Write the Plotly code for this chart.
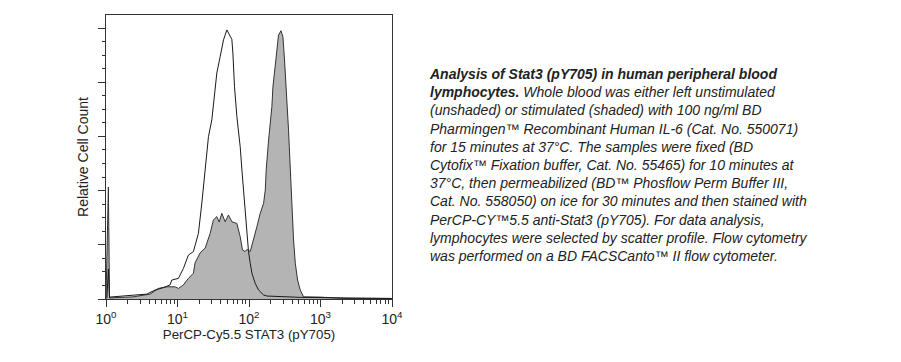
import plotly.graph_objects as go

# Unstimulated (unshaded) histogram: PerCP-Cy5.5 intensity vs relative count
unstim_x = [1.03, 1.08, 1.12, 1.57, 2.39, 3.71, 4.86, 6.35, 7.87, 8.32, 10.3, 12.1, 14.2,
            16.7, 19.6, 21.9, 23.1, 25.2, 27.1, 30.2, 31.8, 33.6, 35.5, 39.5, 44.0, 49.0,
            53.3, 57.6, 59.5, 62.7, 67.7, 71.3, 75.3, 79.6, 83.8, 88.5, 93.5, 98.4, 104,
            109.9, 122, 136, 160, 178, 521, 1892, 9800]
unstim_y = [0.004, 0.111, 0.007, 0.011, 0.014, 0.018, 0.033, 0.042, 0.052, 0.070, 0.076,
            0.113, 0.162, 0.175, 0.242, 0.354, 0.414, 0.513, 0.599, 0.661, 0.710, 0.783,
            0.834, 0.894, 0.956, 0.993, 0.974, 0.958, 0.908, 0.783, 0.673, 0.624, 0.562,
            0.476, 0.402, 0.328, 0.255, 0.175, 0.132, 0.095, 0.058, 0.033, 0.015, 0.011,
            0.006, 0.004, 0.002]

# Stimulated (shaded) histogram
stim_x = [1.0, 1.08, 1.12, 2.39, 4.13, 5.40, 7.08, 9.26, 10.3, 12.1, 14.2, 16.7, 17.6,
          20.7, 24.4, 28.6, 31.8, 35.5, 38.3, 41.7, 46.4, 51.6, 57.6, 67.6, 75.3, 81.1,
          88.5, 93.5, 104, 115.7, 129, 143.5, 160, 169, 174, 188, 203, 209, 216, 228, 240,
          259, 280, 298, 314, 332, 351, 357, 366, 378, 390, 399, 407, 420, 444, 478, 521,
          580, 993, 1702, 2200, 10000]
stim_y = [0.0, 0.413, 0.004, 0.008, 0.018, 0.039, 0.045, 0.045, 0.039, 0.052, 0.076,
          0.095, 0.133, 0.170, 0.188, 0.242, 0.292, 0.304, 0.284, 0.316, 0.285, 0.310,
          0.285, 0.279, 0.230, 0.181, 0.175, 0.183, 0.175, 0.218, 0.267, 0.316, 0.353,
          0.402, 0.476, 0.587, 0.661, 0.710, 0.783, 0.845, 0.907, 0.974, 0.990, 0.968,
          0.882, 0.783, 0.685, 0.624, 0.562, 0.476, 0.377, 0.292, 0.255, 0.218, 0.132,
          0.070, 0.033, 0.008, 0.007, 0.005, 0.002, 0.002]

x_tickvals = [1, 10, 100, 1000, 10000]
x_ticktext = ["10<sup>0</sup>", "10<sup>1</sup>", "10<sup>2</sup>", "10<sup>3</sup>", "10<sup>4</sup>"]

caption = ("<b>Analysis of Stat3 (pY705) in human peripheral blood<br>"
           "lymphocytes.</b> Whole blood was either left unstimulated<br>"
           "(unshaded) or stimulated (shaded) with 100 ng/ml BD<br>"
           "Pharmingen™ Recombinant Human IL-6 (Cat. No. 550071)<br>"
           "for 15 minutes at 37°C. The samples were fixed (BD<br>"
           "Cytofix™ Fixation buffer, Cat. No. 55465) for 10 minutes at<br>"
           "37°C, then permeabilized (BD™ Phosflow Perm Buffer III,<br>"
           "Cat. No. 558050) on ice for 30 minutes and then stained with<br>"
           "PerCP-CY™5.5 anti-Stat3 (pY705). For data analysis,<br>"
           "lymphocytes were selected by scatter profile. Flow cytometry<br>"
           "was performed on a BD FACSCanto™ II flow cytometer.")

FONT = "Liberation Sans, Arial, sans-serif"

fig = go.Figure()
fig.add_trace(go.Scatter(
    x=stim_x, y=stim_y, mode="lines", fill="tozeroy",
    fillcolor="#b4b4b4", line=dict(color="#333333", width=1),
    name="Stimulated", showlegend=False, hoverinfo="skip"))
fig.add_trace(go.Scatter(
    x=unstim_x, y=unstim_y, mode="lines",
    line=dict(color="#1a1a1a", width=1),
    name="Unstimulated", showlegend=False, hoverinfo="skip"))

# page has an 8px body margin; figure coordinates are offset accordingly
OFF = 8
W, H = 901 - OFF, 362 - OFF
L, R, T, B = 106 - OFF, 392 - OFF, 15 - OFF, 299 - OFF
fig.update_layout(
    width=W, height=H,
    margin=dict(l=L, r=W - R, t=T, b=H - B, pad=0),
    paper_bgcolor="white", plot_bgcolor="white",
    font=dict(family=FONT, color="#222222", size=13),
    xaxis=dict(
        type="log", range=[0, 4.0],
        tickvals=x_tickvals, ticktext=x_ticktext,
        ticks="outside", ticklen=7, tickcolor="#333333", tickwidth=1,
        minor=dict(ticks="outside", ticklen=4, tickcolor="#333333",
                   tickvals=[m * 10 ** e for e in range(4) for m in range(2, 10)],
                   showgrid=False),
        showline=True, linecolor="#333333", linewidth=1, mirror=True,
        showgrid=False, zeroline=False,
        tickfont=dict(size=14, family=FONT, color="#222222"),
        title=dict(text="PerCP-Cy5.5 STAT3 (pY705)", standoff=1,
                   font=dict(size=13.3, family=FONT, color="#222222")),
    ),
    yaxis=dict(
        range=[0, 1.048],
        tickvals=[0, 0.2, 0.4, 0.6, 0.8, 1.0],
        showticklabels=False,
        ticks="outside", ticklen=7, tickcolor="#333333", tickwidth=1,
        minor=dict(ticks="outside", ticklen=3, tickcolor="#333333", dtick=0.05,
                   showgrid=False),
        showline=True, linecolor="#333333", linewidth=1, mirror=True,
        showgrid=False, zeroline=False,
        title=dict(text="Relative Cell Count", standoff=6,
                   font=dict(size=14, family=FONT, color="#222222")),
    ),
    annotations=[dict(
        text="<i>" + caption + "</i>",
        xref="paper", yref="paper",
        x=(427 - OFF - L) / (R - L), y=(B - (64 - OFF)) / (B - T),
        xanchor="left", yanchor="top", align="left", showarrow=False,
        font=dict(size=14, family=FONT, color="#222222"),
    )],
)

fig.write_html("out.html")
